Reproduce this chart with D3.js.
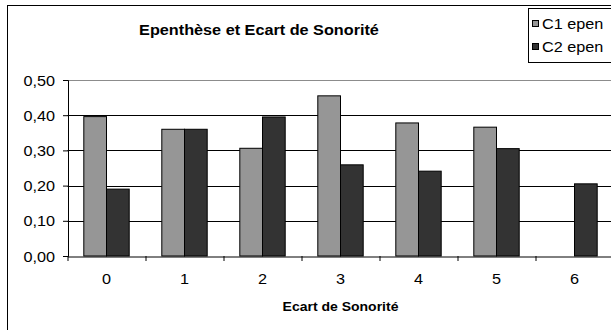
<!DOCTYPE html>
<html>
<head>
<meta charset="utf-8">
<script src="https://cdn.jsdelivr.net/npm/d3@7"></script>
<style>
  html, body { margin: 0; padding: 0; background: #fff; }
  svg { display: block; font-family: "Liberation Sans", Arial, sans-serif; }
</style>
</head>
<body>
<svg id="chart" width="611" height="330"></svg>
<script>
// Sonority distance categories and epenthesis rates per consonant position
const categories = ["0", "1", "2", "3", "4", "5", "6"];
const seriesNames = ["C1 epen", "C2 epen"];
const c1Values = [0.396, 0.360, 0.306, 0.455, 0.378, 0.366, null];
const c2Values = [0.190, 0.360, 0.395, 0.259, 0.241, 0.305, 0.205];
const yTicks = [0, 0.1, 0.2, 0.3, 0.4, 0.5];
const titleText = "Epenthèse et Ecart de Sonorité";
const xAxisTitle = "Ecart de Sonorité";
const seriesColors = ["#969696", "#333333"];

const svg = d3.select("#chart");
const W = 611, H = 330;
const stretch = 1.12; // text is slightly wider than tall

const plot = { left: 67.5, right: 613.5, top: 80, bottom: 256 };

// Outer chart frame
svg.append("rect")
  .attr("x", 7.5).attr("y", 5.5)
  .attr("width", W + 10).attr("height", H + 10)
  .attr("fill", "#fff").attr("stroke", "#000").attr("stroke-width", 1);

const x0 = d3.scaleBand().domain(categories).range([plot.left, plot.right]).padding(0);
const step = x0.step();
const x1 = d3.scaleBand().domain(seriesNames).range([step * 0.209, step * 0.791]).padding(0);
const y = d3.scaleLinear().domain([0, 0.5]).range([plot.bottom, plot.top]);

function stretchedText(g, x, yy, txt, opts) {
  return g.append("text")
    .attr("transform", `translate(${x},${yy}) scale(${stretch},1)`)
    .attr("text-anchor", opts.anchor || "middle")
    .attr("font-size", opts.size)
    .attr("font-weight", opts.weight || "normal")
    .attr("fill", "#000")
    .text(txt);
}

// Gridlines
svg.append("g").selectAll("line")
  .data(yTicks.filter(t => t > 0 && t < 0.5))
  .join("line")
  .attr("x1", plot.left).attr("x2", plot.right)
  .attr("y1", d => Math.round(y(d)) + 0.5).attr("y2", d => Math.round(y(d)) + 0.5)
  .attr("stroke", "#000").attr("stroke-width", 1);

// Plot area top border
svg.append("line")
  .attr("x1", plot.left).attr("x2", plot.right)
  .attr("y1", y(0.5) + 0.5).attr("y2", y(0.5) + 0.5)
  .attr("stroke", "#8c8c8c").attr("stroke-width", 1);

// Bars
const rows = categories.map((c, i) => ({ cat: c, vals: [c1Values[i], c2Values[i]] }));
svg.append("g").selectAll("g")
  .data(rows)
  .join("g")
  .attr("transform", d => `translate(${x0(d.cat)},0)`)
  .selectAll("rect")
  .data(d => d.vals.map((v, j) => ({ name: seriesNames[j], v, j })).filter(e => e.v != null))
  .join("rect")
  .attr("x", e => x1(e.name))
  .attr("width", x1.bandwidth())
  .attr("y", e => y(e.v))
  .attr("height", e => y(0) - y(e.v))
  .attr("fill", e => seriesColors[e.j])
  .attr("stroke", "#000").attr("stroke-width", 1);

// Y axis
const yAxis = svg.append("g").attr("transform", `translate(${plot.left + 0.5},0)`)
  .call(d3.axisLeft(y).tickValues(yTicks).tickSize(5));
yAxis.select(".domain").attr("stroke", "#000");
yAxis.selectAll(".tick line").attr("stroke", "#000");
yAxis.selectAll(".tick text").remove();
yAxis.selectAll(".tick").each(function (d) {
  stretchedText(d3.select(this), -13, 5, d3.format(".2f")(d).replace(".", ","), { anchor: "end", size: 14.5 });
});

// X axis
const xAxis = svg.append("g").attr("transform", `translate(0,${plot.bottom + 0.5})`)
  .call(d3.axisBottom(x0).tickSize(0).tickSizeOuter(0));
xAxis.select(".domain").attr("stroke", "#000");
xAxis.selectAll(".tick text").remove();
xAxis.selectAll(".tick").each(function (d) {
  stretchedText(d3.select(this), 0, 27, d, { size: 14.5 });
});
// category boundary ticks
svg.append("g").selectAll("line")
  .data(categories)
  .join("line")
  .attr("x1", d => x0(d) + 0.5).attr("x2", d => x0(d) + 0.5)
  .attr("y1", plot.bottom).attr("y2", plot.bottom + 5)
  .attr("stroke", "#000");

// Titles
stretchedText(svg, 259, 35, titleText, { size: 14.5, weight: "bold" });
stretchedText(svg, (plot.left + plot.right) / 2, 311, xAxisTitle, { size: 12.5, weight: "bold" });

// Legend
const legend = svg.append("g");
legend.append("rect")
  .attr("x", 528.5).attr("y", 8.5).attr("width", 100).attr("height", 54)
  .attr("fill", "#fff").attr("stroke", "#000");
const legendRows = [24, 47];
seriesNames.forEach((name, i) => {
  legend.append("rect")
    .attr("x", 532.5).attr("y", legendRows[i] - 3.5).attr("width", 6).attr("height", 6)
    .attr("fill", seriesColors[i]).attr("stroke", "#000");
  stretchedText(legend, 542, legendRows[i] + 5, name, { anchor: "start", size: 14.5 });
});
</script>
</body>
</html>
